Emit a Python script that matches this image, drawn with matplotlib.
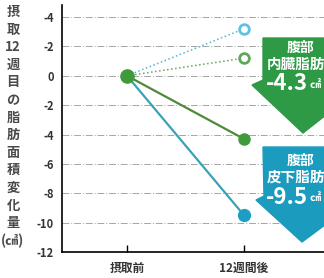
import matplotlib.pyplot as plt
from matplotlib.patches import Polygon

plt.rcParams['font.family'] = ['Noto Sans CJK JP', 'DejaVu Sans']

# data
x_labels = ['摂取前', '12週間後']
visceral_test = [0, -4.3]
subcut_test = [0, -9.5]
visceral_placebo = [0, 1.2]
subcut_placebo = [0, 3.2]
y_ticks = [-12, -10, -8, -6, -4, -2, 0, 2, 4]
y_tick_labels = ['-12', '-10', '-8', '-6', '-4', '-2', '0', '-2', '-4']
ylabel_chars = ['摂', '取', '12', '週', '目', 'の', '脂', '肪', '面', '積', '変', '化', '量', '(㎠)']

green = '#3f9a3c'
green_line = '#4f8a3a'
blue = '#1d9cc4'
blue_line = '#3aa2b6'

W, H = 324, 278
fig = plt.figure(figsize=(W / 100, H / 100), dpi=100)
ax = fig.add_axes([62 / W, 1 - 252 / H, 1 - 62 / W, (252 - 5) / H])
x = [0, 1]

# grid lines
for yv in y_ticks[1:]:
    ax.axhline(yv, color='#a5a5a5', lw=0.7, ls=(0, (7, 2, 1, 2)), zorder=1)

# placebo (dotted)
ax.plot(x, subcut_placebo, ls=':', color='#4fb6d6', lw=1.1, zorder=2)
ax.plot(x, visceral_placebo, ls=':', color='#6aa55a', lw=1.1, zorder=2)
# test (solid)
ax.plot(x, subcut_test, ls='-', color=blue_line, lw=1.6, zorder=3)
ax.plot(x, visceral_test, ls='-', color=green_line, lw=1.6, zorder=3)

ax.plot(1, subcut_placebo[1], 'o', ms=7, mfc='white', mec='#5cc4e0', mew=2, zorder=4)
ax.plot(1, visceral_placebo[1], 'o', ms=7, mfc='white', mec='#5fa75a', mew=2, zorder=4)
ax.plot(1, visceral_test[1], 'o', ms=8, color=green, zorder=4)
ax.plot(1, subcut_test[1], 'o', ms=8.5, color=blue, zorder=4)
ax.plot(0, 0, 'o', ms=9.5, color=green, zorder=5)

ax.set_xlim(-0.556, 1.684)
ax.set_ylim(-12, 4.82)
ax.set_yticks(y_ticks)
ax.set_yticklabels(y_tick_labels, fontsize=8, fontweight='bold', color='#333333')
ax.tick_params(axis='y', length=0, pad=6)
ax.set_xticks(x)
ax.set_xticklabels(x_labels, fontsize=8.5, fontweight='bold', color='#333333')
ax.tick_params(axis='x', direction='in', length=5, width=1, pad=7)
for s in ['top', 'right']:
    ax.spines[s].set_visible(False)
ax.spines['left'].set_linewidth(1.2)
ax.spines['bottom'].set_linewidth(1.2)

# vertical y label
for i, ch in enumerate(ylabel_chars):
    fig.text(13 / W, 1 - (12 + i * 17.6) / H, ch, ha='center', va='center',
             fontsize=9.5, fontweight='bold', color='#4a4a4a')


def px(pts):
    return [(a / W, 1 - b / H) for a, b in pts]


arrow_g = Polygon(px([(263, 38), (345, 38), (345, 100), (303, 133), (252, 85), (263, 80)]),
                  closed=True, transform=fig.transFigure, color='#2f9a45', zorder=6)
arrow_b = Polygon(px([(263, 147), (345, 147), (345, 210), (302, 242), (256, 200), (264, 196)]),
                  closed=True, transform=fig.transFigure, color='#1b9bbd', zorder=6)
fig.patches.extend([arrow_g, arrow_b])

for top, txt, val in [(48, '内臓脂肪', '-4.3'), (161, '皮下脂肪', '-9.5')]:
    fig.text(301 / W, 1 - top / H, '腹部', ha='center', va='center', fontsize=10,
             fontweight='bold', color='white', zorder=7)
    fig.text(267 / W, 1 - (top + 16) / H, txt, ha='left', va='center', fontsize=10.5,
             fontweight='bold', color='white', zorder=7)
    t = fig.text(266 / W, 1 - (top + 36) / H, val, ha='left', va='center', fontsize=16,
                 fontweight='bold', color='white', zorder=7)
    fig.add_artist(plt.Annotation('㎠', xy=(1, 0.15), xycoords=t, xytext=(1, 0),
                                  textcoords='offset points', ha='left', va='bottom',
                                  fontsize=8, fontweight='bold', color='white', zorder=7))

fig.savefig('out.png', dpi=100)
